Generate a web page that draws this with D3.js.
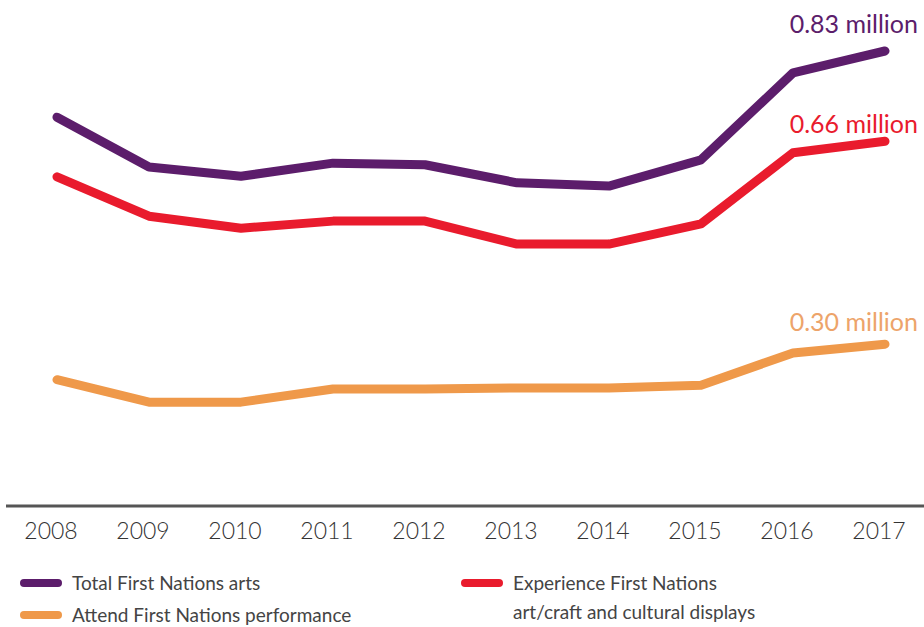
<!DOCTYPE html>
<html>
  <head>
    <meta charset="utf-8">
    <title>First Nations arts attendance</title>
    <script src="https://d3js.org/d3.v7.min.js"></script>
    <style>
      body { margin: 0; background: #fff; }
      svg { display: block; font-family: Lato, "Open Sans", sans-serif; }
    </style>
  </head>
  <body>
    <div id="chart"></div>
    <script>
      // data (millions)
      var years = ["2008", "2009", "2010", "2011", "2012", "2013", "2014", "2015", "2016", "2017"];
      var totalArts = [0.709, 0.618, 0.601, 0.625, 0.622, 0.589, 0.583, 0.631, 0.790, 0.830];
      var experienceArts = [0.600, 0.528, 0.506, 0.519, 0.519, 0.477, 0.477, 0.514, 0.644, 0.665];
      var attendPerformance = [0.229, 0.188, 0.188, 0.212, 0.212, 0.214, 0.214, 0.219, 0.278, 0.294];
      var endLabels = ["0.83 million", "0.66 million", "0.30 million"];

      var series = [
        { name: "Total First Nations arts", values: totalArts, color: "#5c1d6b", label: endLabels[0], labelColor: "#5c1d6b", dy: -18 },
        { name: "Experience First Nations", values: experienceArts, color: "#e91b2d", label: endLabels[1], labelColor: "#e91b2d", dy: -8 },
        { name: "Attend First Nations performance", values: attendPerformance, color: "#ef994a", label: endLabels[2], labelColor: "#eda46a", dy: -13 }
      ];

      var width = 924, height = 627;
      var svg = d3.select("#chart").append("svg")
        .attr("width", width)
        .attr("height", height);

      var x = d3.scalePoint().domain(years).range([57, 885]);
      var y = d3.scaleLinear().domain([0, 0.83]).range([505, 51]);

      // x axis baseline + year labels
      svg.append("line")
        .attr("x1", 6).attr("x2", width)
        .attr("y1", 506).attr("y2", 506)
        .attr("stroke", "#555").attr("stroke-width", 3);
      svg.selectAll(".year")
        .data(years)
        .enter().append("text")
          .attr("class", "year")
          .attr("x", function(d) { return x(d) - 6; })
          .attr("y", 539)
          .attr("text-anchor", "middle")
          .attr("font-size", 23)
          .attr("font-weight", 300)
          .attr("fill", "#333")
          .text(function(d) { return d; });

      // lines
      var line = d3.line()
        .x(function(d, i) { return x(years[i]); })
        .y(function(d) { return y(d); });
      svg.selectAll(".series")
        .data(series)
        .enter().append("path")
          .attr("class", "series")
          .attr("d", function(d) { return line(d.values); })
          .attr("fill", "none")
          .attr("stroke", function(d) { return d.color; })
          .attr("stroke-width", 9)
          .attr("stroke-linecap", "round")
          .attr("stroke-linejoin", "round");

      // end labels
      svg.selectAll(".end")
        .data(series)
        .enter().append("text")
          .attr("class", "end")
          .attr("x", 918)
          .attr("y", function(d) { return y(d.values[d.values.length - 1]) + d.dy; })
          .attr("text-anchor", "end")
          .attr("font-size", 25)
          .attr("fill", function(d) { return d.labelColor; })
          .text(function(d) { return d.label; });

      // legend
      var legend = [
        { color: series[0].color, x: 20, y: 583, lines: ["Total First Nations arts"] },
        { color: series[2].color, x: 20, y: 615, lines: ["Attend First Nations performance"] },
        { color: series[1].color, x: 461, y: 583, lines: ["Experience First Nations", "art/craft and cultural displays"] }
      ];
      var lg = svg.selectAll(".legend")
        .data(legend)
        .enter().append("g")
          .attr("class", "legend")
          .attr("transform", function(d) { return "translate(" + d.x + "," + d.y + ")"; });
      lg.append("line")
        .attr("x1", 4).attr("x2", 38)
        .attr("stroke", function(d) { return d.color; })
        .attr("stroke-width", 8)
        .attr("stroke-linecap", "round");
      lg.append("text")
        .attr("x", 52)
        .attr("y", 7)
        .attr("font-size", 19)
        .attr("fill", "#444")
        .selectAll("tspan")
        .data(function(d) { return d.lines; })
        .enter().append("tspan")
          .attr("x", 52)
          .attr("dy", function(d, i) { return i ? 29 : 0; })
          .text(function(d) { return d; });
    </script>
  </body>
</html>
